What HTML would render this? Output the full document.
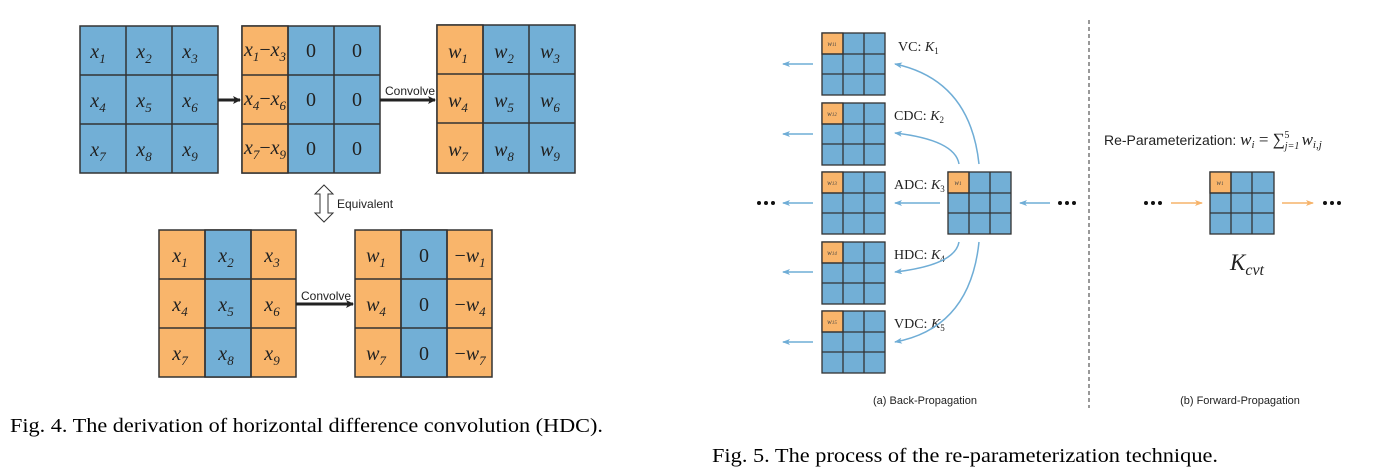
<!DOCTYPE html>
<html><head><meta charset="utf-8"><style>
body{margin:0;background:#fff;}
svg{display:block}
.m{font-family:"Liberation Serif",serif;font-style:italic;font-size:20px;fill:#222}
.z{font-family:"Liberation Serif",serif;font-size:20px;fill:#222}
.s{font-family:"Liberation Sans",sans-serif;font-size:12px;fill:#222}
.l{font-family:"Liberation Serif",serif;font-size:14px;fill:#222}
.cap{font-family:"Liberation Serif",serif;font-size:20px;fill:#000}
</style></head><body>
<svg width="1374" height="474" viewBox="0 0 1374 474" xmlns="http://www.w3.org/2000/svg">
<defs>
<marker id="ab" markerWidth="8" markerHeight="8" refX="7" refY="4" orient="auto" markerUnits="userSpaceOnUse"><path d="M0,0 L8,4 L0,8 L2,4z" fill="#222"/></marker>
<marker id="al" markerWidth="8" markerHeight="6" refX="7" refY="3" orient="auto" markerUnits="userSpaceOnUse"><path d="M0,0 L8,3 L0,6 L2,3z" fill="#6fadd6"/></marker>
<marker id="ao" markerWidth="8" markerHeight="6" refX="7" refY="3" orient="auto" markerUnits="userSpaceOnUse"><path d="M0,0 L8,3 L0,6 L2,3z" fill="#f6b36a"/></marker>
</defs>
<g stroke="#333" stroke-width="1.5">
<rect x="80" y="26" width="138" height="147" fill="#72afd6"/>
<rect x="242" y="26" width="138" height="147" fill="#72afd6"/>
<rect x="242" y="26" width="46" height="147" fill="#f9b56b"/>
<rect x="437" y="25" width="138" height="148" fill="#72afd6"/>
<rect x="437" y="25" width="46" height="148" fill="#f9b56b"/>
<rect x="159" y="230" width="137" height="147" fill="#f9b56b"/>
<rect x="205" y="230" width="46" height="147" fill="#72afd6"/>
<rect x="355" y="230" width="137" height="147" fill="#f9b56b"/>
<rect x="401" y="230" width="46" height="147" fill="#72afd6"/>
<path fill="none" d="M126,26V173M172,26V173M80,75H218M80,124H218
M288,26V173M334,26V173M242,75H380M242,124H380
M483,25V173M529,25V173M437,74H575M437,123H575
M205,230V377M251,230V377M159,279H296M159,328H296
M401,230V377M447,230V377M355,279H492M355,328H492"/>
</g>
<g class="m" text-anchor="middle">
<text x="98" y="58">x<tspan font-size="13" dy="5">1</tspan></text>
<text x="144" y="58">x<tspan font-size="13" dy="5">2</tspan></text>
<text x="190" y="58">x<tspan font-size="13" dy="5">3</tspan></text>
<text x="98" y="107">x<tspan font-size="13" dy="5">4</tspan></text>
<text x="144" y="107">x<tspan font-size="13" dy="5">5</tspan></text>
<text x="190" y="107">x<tspan font-size="13" dy="5">6</tspan></text>
<text x="98" y="156">x<tspan font-size="13" dy="5">7</tspan></text>
<text x="144" y="156">x<tspan font-size="13" dy="5">8</tspan></text>
<text x="190" y="156">x<tspan font-size="13" dy="5">9</tspan></text>
<text x="265" y="56">x<tspan font-size="13" dy="5">1</tspan><tspan dy="-5" font-style="normal">−</tspan>x<tspan font-size="13" dy="5">3</tspan></text>
<text x="265" y="105">x<tspan font-size="13" dy="5">4</tspan><tspan dy="-5" font-style="normal">−</tspan>x<tspan font-size="13" dy="5">6</tspan></text>
<text x="265" y="154">x<tspan font-size="13" dy="5">7</tspan><tspan dy="-5" font-style="normal">−</tspan>x<tspan font-size="13" dy="5">9</tspan></text>
<text x="458" y="58">w<tspan font-size="13" dy="5">1</tspan></text>
<text x="504" y="58">w<tspan font-size="13" dy="5">2</tspan></text>
<text x="550" y="58">w<tspan font-size="13" dy="5">3</tspan></text>
<text x="458" y="107">w<tspan font-size="13" dy="5">4</tspan></text>
<text x="504" y="107">w<tspan font-size="13" dy="5">5</tspan></text>
<text x="550" y="107">w<tspan font-size="13" dy="5">6</tspan></text>
<text x="458" y="156">w<tspan font-size="13" dy="5">7</tspan></text>
<text x="504" y="156">w<tspan font-size="13" dy="5">8</tspan></text>
<text x="550" y="156">w<tspan font-size="13" dy="5">9</tspan></text>
<text x="180" y="262">x<tspan font-size="13" dy="5">1</tspan></text>
<text x="226" y="262">x<tspan font-size="13" dy="5">2</tspan></text>
<text x="272" y="262">x<tspan font-size="13" dy="5">3</tspan></text>
<text x="180" y="311">x<tspan font-size="13" dy="5">4</tspan></text>
<text x="226" y="311">x<tspan font-size="13" dy="5">5</tspan></text>
<text x="272" y="311">x<tspan font-size="13" dy="5">6</tspan></text>
<text x="180" y="360">x<tspan font-size="13" dy="5">7</tspan></text>
<text x="226" y="360">x<tspan font-size="13" dy="5">8</tspan></text>
<text x="272" y="360">x<tspan font-size="13" dy="5">9</tspan></text>
<text x="376" y="262">w<tspan font-size="13" dy="5">1</tspan></text>
<text x="376" y="311">w<tspan font-size="13" dy="5">4</tspan></text>
<text x="376" y="360">w<tspan font-size="13" dy="5">7</tspan></text>
<text x="470" y="262"><tspan font-style="normal">−</tspan>w<tspan font-size="13" dy="5">1</tspan></text>
<text x="470" y="311"><tspan font-style="normal">−</tspan>w<tspan font-size="13" dy="5">4</tspan></text>
<text x="470" y="360"><tspan font-style="normal">−</tspan>w<tspan font-size="13" dy="5">7</tspan></text>
</g>
<g class="z" text-anchor="middle">
<text x="311" y="57">0</text><text x="357" y="57">0</text>
<text x="311" y="106">0</text><text x="357" y="106">0</text>
<text x="311" y="155">0</text><text x="357" y="155">0</text>
<text x="424" y="262">0</text><text x="424" y="311">0</text><text x="424" y="360">0</text>
</g>
<g stroke="#222" stroke-width="3" fill="none">
<path d="M218,100H240" marker-end="url(#ab)"/>
<path d="M380,100H435" marker-end="url(#ab)"/>
<path d="M296,304H353" marker-end="url(#ab)"/>
</g>
<text class="s" x="385" y="95">Convolve</text>
<text class="s" x="301" y="300">Convolve</text>
<path d="M324,185 L333,194 L328,194 L328,213 L333,213 L324,222 L315,213 L320,213 L320,194 L315,194Z" fill="#fff" stroke="#333" stroke-width="1"/>
<text class="s" x="337" y="208">Equivalent</text>
<text class="cap" x="10" y="432" textLength="593" lengthAdjust="spacingAndGlyphs">Fig. 4.  The derivation of horizontal difference convolution (HDC).</text>

<g stroke="#333" stroke-width="1.3">
<rect x="822" y="33" width="63" height="62" fill="#72afd6"/><rect x="822" y="33" width="21" height="21" fill="#f9b56b"/>
<path fill="none" d="M843,33V95M864,33V95M822,54H885M822,74H885"/>
<rect x="822" y="103" width="63" height="62" fill="#72afd6"/><rect x="822" y="103" width="21" height="21" fill="#f9b56b"/>
<path fill="none" d="M843,103V165M864,103V165M822,124H885M822,144H885"/>
<rect x="822" y="172" width="63" height="62" fill="#72afd6"/><rect x="822" y="172" width="21" height="21" fill="#f9b56b"/>
<path fill="none" d="M843,172V234M864,172V234M822,193H885M822,213H885"/>
<rect x="822" y="242" width="63" height="62" fill="#72afd6"/><rect x="822" y="242" width="21" height="21" fill="#f9b56b"/>
<path fill="none" d="M843,242V304M864,242V304M822,263H885M822,283H885"/>
<rect x="822" y="311" width="63" height="62" fill="#72afd6"/><rect x="822" y="311" width="21" height="21" fill="#f9b56b"/>
<path fill="none" d="M843,311V373M864,311V373M822,332H885M822,352H885"/>
<rect x="948" y="172" width="63" height="62" fill="#72afd6"/><rect x="948" y="172" width="21" height="21" fill="#f9b56b"/>
<path fill="none" d="M969,172V234M990,172V234M948,193H1011M948,213H1011"/>
<rect x="1210" y="172" width="64" height="62" fill="#72afd6"/><rect x="1210" y="172" width="21" height="21" fill="#f9b56b"/>
<path fill="none" d="M1231,172V234M1252,172V234M1210,193H1274M1210,213H1274"/>
</g>
<g font-family="Liberation Serif,serif" font-style="italic" font-size="7" fill="#444" text-anchor="middle">
<text x="832" y="46">w<tspan font-size="5">11</tspan></text>
<text x="832" y="116">w<tspan font-size="5">12</tspan></text>
<text x="832" y="185">w<tspan font-size="5">13</tspan></text>
<text x="832" y="255">w<tspan font-size="5">14</tspan></text>
<text x="832" y="324">w<tspan font-size="5">15</tspan></text>
<text x="958" y="185">w<tspan font-size="5">1</tspan></text>
<text x="1220" y="185">w<tspan font-size="5">1</tspan></text>
</g>
<g class="l">
<text x="898" y="51">VC: <tspan font-style="italic">K</tspan><tspan font-size="9" dy="3">1</tspan></text>
<text x="894" y="120">CDC: <tspan font-style="italic">K</tspan><tspan font-size="9" dy="3">2</tspan></text>
<text x="894" y="189">ADC: <tspan font-style="italic">K</tspan><tspan font-size="9" dy="3">3</tspan></text>
<text x="894" y="259">HDC: <tspan font-style="italic">K</tspan><tspan font-size="9" dy="3">4</tspan></text>
<text x="894" y="328">VDC: <tspan font-style="italic">K</tspan><tspan font-size="9" dy="3">5</tspan></text>
</g>
<g stroke="#6fadd6" stroke-width="1.5" fill="none">
<path d="M813,64H783" marker-end="url(#al)"/>
<path d="M813,134H783" marker-end="url(#al)"/>
<path d="M813,203H783" marker-end="url(#al)"/>
<path d="M813,272H783" marker-end="url(#al)"/>
<path d="M813,342H783" marker-end="url(#al)"/>
<path d="M940,203H895" marker-end="url(#al)"/>
<path d="M1050,203H1020" marker-end="url(#al)"/>
<path d="M979,164 Q970,80 895,64" marker-end="url(#al)"/>
<path d="M959,164 Q955,140 895,133" marker-end="url(#al)"/>
<path d="M959,242 Q955,265 895,272" marker-end="url(#al)"/>
<path d="M979,242 Q970,328 895,342" marker-end="url(#al)"/>
</g>
<g stroke="#f6b36a" stroke-width="1.5" fill="none">
<path d="M1171,203H1202" marker-end="url(#ao)"/>
<path d="M1282,203H1313" marker-end="url(#ao)"/>
</g>
<g fill="#111">
<circle cx="759" cy="203" r="2"/><circle cx="766" cy="203" r="2"/><circle cx="773" cy="203" r="2"/>
<circle cx="1060" cy="203" r="2"/><circle cx="1067" cy="203" r="2"/><circle cx="1074" cy="203" r="2"/>
<circle cx="1146" cy="203" r="2"/><circle cx="1153" cy="203" r="2"/><circle cx="1160" cy="203" r="2"/>
<circle cx="1325" cy="203" r="2"/><circle cx="1332" cy="203" r="2"/><circle cx="1339" cy="203" r="2"/>
</g>
<path d="M1089,20V408" stroke="#333" stroke-width="1" stroke-dasharray="4,3"/>
<text x="1104" y="145" font-family="Liberation Sans,sans-serif" font-size="14" fill="#222">Re-Parameterization: <tspan font-family="Liberation Serif,serif" font-style="italic" font-size="17">w<tspan font-size="11" dy="3">i</tspan><tspan dy="-3" font-style="normal"> = ∑</tspan><tspan font-size="10" dy="4">j=1</tspan><tspan font-size="10" dx="-15" dy="-11" font-style="normal">5</tspan><tspan dx="8" dy="7"> w</tspan><tspan font-size="11" dy="3">i,j</tspan></tspan></text>
<text x="1230" y="270" font-family="Liberation Serif,serif" font-style="italic" font-size="23" fill="#222">K<tspan font-size="16" dy="5">cvt</tspan></text>
<text x="925" y="404" text-anchor="middle" font-family="Liberation Sans,sans-serif" font-size="11" fill="#222">(a) Back-Propagation</text>
<text x="1240" y="404" text-anchor="middle" font-family="Liberation Sans,sans-serif" font-size="11" fill="#222">(b) Forward-Propagation</text>
<text class="cap" x="712" y="462" textLength="506" lengthAdjust="spacingAndGlyphs">Fig. 5.  The process of the re-parameterization technique.</text>
</svg>
</body></html>
